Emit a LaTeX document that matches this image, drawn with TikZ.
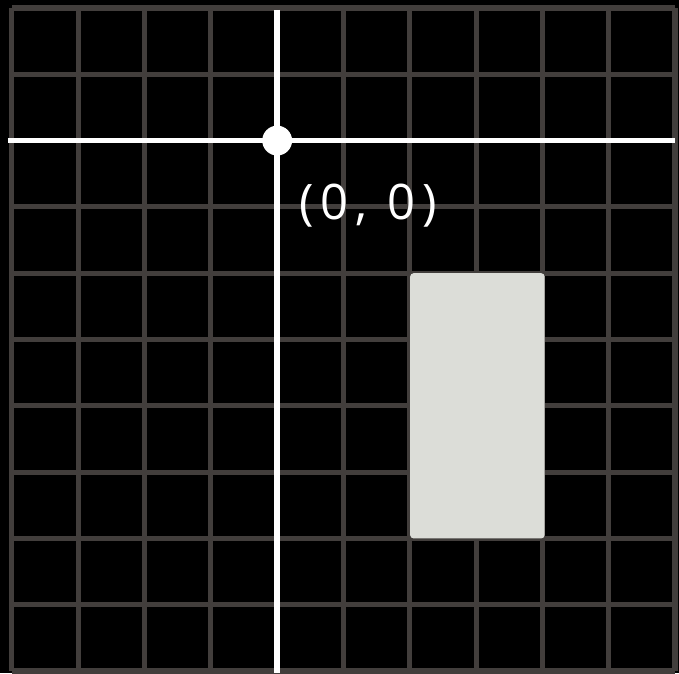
\documentclass[tikz,border=0pt]{standalone}
\usepackage{fontspec}
\setsansfont{Open Sans}
\usetikzlibrary{positioning}

\definecolor{gridgray}{HTML}{423E3C}
\definecolor{blockgray}{HTML}{DCDDD8}

\begin{document}
\begin{tikzpicture}[
    gridline/.style={gridgray, line width=2.2pt},
    axisline/.style={white, line width=2.5pt},
    origin_dot/.style={circle, fill=white, minimum size=0.45cm, inner sep=0pt},
    label_style/.style={font=\sffamily\fontsize{21}{21}\selectfont\addfontfeature{LetterSpace=14}, text=white},
    block/.style={fill=blockgray, rounded corners=1.5pt, minimum width=2.03cm, minimum height=4cm, inner sep=0pt}
]

% Fondo negro y marco de la figura
\fill[black] (-4.18,2.12) rectangle (6.06,-8.03);
\useasboundingbox (-4.18,2.12) rectangle (6.06,-8.03);

% ==========================
% CUADRICULA
% ==========================
\foreach \x in {-4,...,6} {
    \coordinate (V-top-\x) at (\x, 2);
    \coordinate (V-bot-\x) at (\x, -8);
    \draw[gridline] (V-top-\x) -- (V-bot-\x);
}
\foreach \y in {2,...,-8} {
    \coordinate (H-left-\y) at (-4, \y);
    \coordinate (H-right-\y) at (6, \y);
    \draw[gridline] (H-left-\y) -- (H-right-\y);
}

% ==========================
% BLOQUE
% ==========================
\node[block] (rect) at (3.02, -4) {};

% ==========================
% EJES Y ORIGEN
% ==========================
\coordinate (ax-left) at (-4.06, 0);
\coordinate (ax-right) at (6, 0);
\coordinate (ax-top) at (0, 1.97);
\coordinate (ax-bot) at (0, -8.03);

\draw[axisline] (ax-left) -- (ax-right);
\draw[axisline] (ax-top) -- (ax-bot);

\node[origin_dot] (origin) at (0, 0) {};
\node[label_style, below right=0.36cm and 0.05cm of origin] (origin-label) {(0, 0)};

\end{tikzpicture}
\end{document}
